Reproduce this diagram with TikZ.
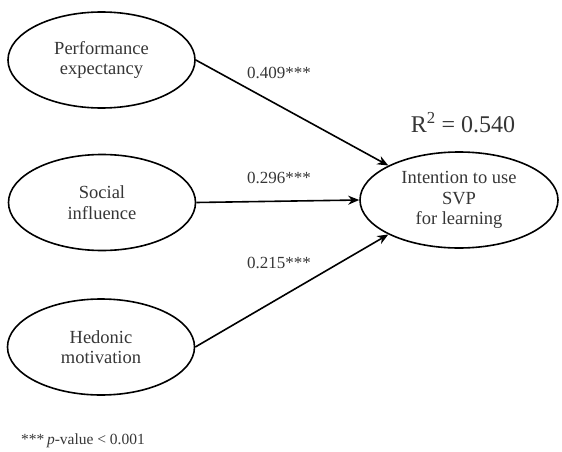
\documentclass[tikz,border=0pt]{standalone}
\usepackage{fontspec}
\setmainfont{Liberation Serif}
\usetikzlibrary{shapes.geometric,arrows.meta}
\definecolor{txt}{HTML}{363636}
\tikzset{
  construct/.style={ellipse, draw=black, line width=1.6pt, minimum width=187pt, minimum height=96pt, inner sep=0pt, align=center, text=txt, font=\fontsize{18.5}{20.5}\selectfont},
  target/.style={construct, minimum width=198pt},
  path/.style={line width=1.6pt, -{Stealth[length=11pt,width=9pt,inset=3.5pt]}},
  coef/.style={text=txt, font=\fontsize{17}{19}\selectfont, inner sep=0pt}
}
\begin{document}
\begin{tikzpicture}[x=1pt,y=-1pt]
\useasboundingbox (0,0) rectangle (562,452);
\node[construct] (pe) at (101.5,60) {Performance\\expectancy};
\node[construct] (si) at (102,202.5) {Social\\influence};
\node[construct] (hm) at (101,347) {Hedonic\\motivation};
\node[target] (int) at (459,200) {Intention to use\\SVP\\for learning};
\draw[path] (pe.east) -- (int.154);
\draw[path] (si.east) -- (int.west);
\draw[path] (hm.east) -- (int.206);
\node[coef] (c1) at (279,73) {0.409***};
\node[coef] (c2) at (279,178) {0.296***};
\node[coef] (c3) at (279,263) {0.215***};
\node[text=txt, font=\fontsize{24}{27}\selectfont, inner sep=0pt] (r2) at (463,123) {R\textsuperscript{2} = 0.540};
\node[text=txt, font=\fontsize{15.5}{17}\selectfont, inner sep=0pt, anchor=west] (fn) at (21,441) {***\,\textit{p}-value < 0.001};
\end{tikzpicture}
\end{document}
